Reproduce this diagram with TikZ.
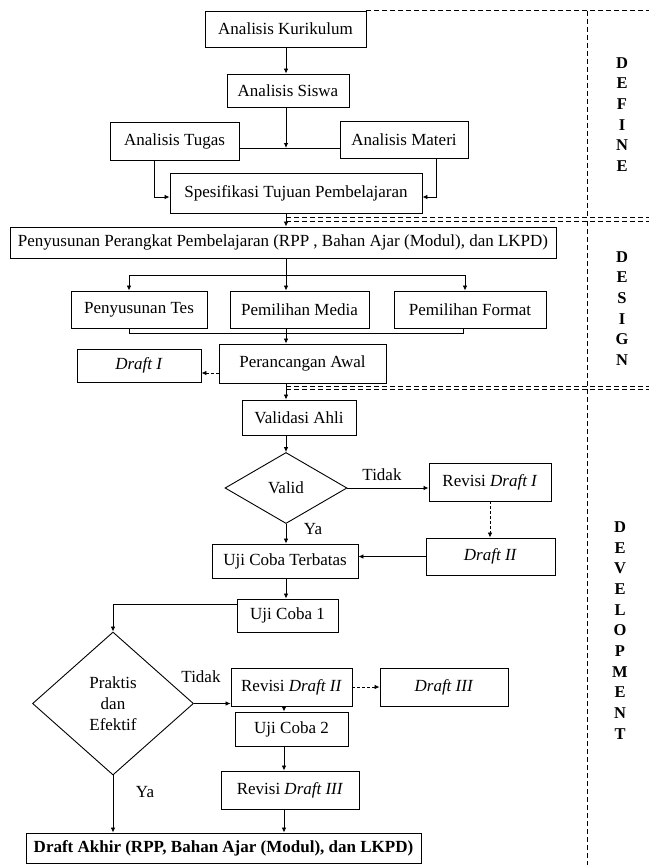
\documentclass[tikz,border=0pt]{standalone}
\usepackage{fontspec}
\setmainfont{Liberation Serif}
\usetikzlibrary{shapes.geometric,arrows.meta}
\newcommand{\boxfont}{\fontsize{17}{21}\selectfont}
\begin{document}
\begin{tikzpicture}[x=1pt,y=-1pt,
  box/.style={draw,line width=0.9pt,inner sep=0pt,align=center,font=\boxfont},
  dec/.style={draw,diamond,line width=0.9pt,inner sep=0pt,align=center,font=\boxfont},
  sz/.style 2 args={minimum width=#1pt,minimum height=#2pt},
  conn/.style={line width=0.8pt},
  arr/.style={conn,-{Latex[length=5pt,width=4.5pt]}},
  darr/.style={arr,dash pattern=on 3pt off 2pt},
  regionline/.style={line width=0.8pt,dash pattern=on 5pt off 3pt},
  lbl/.style={font=\boxfont,inner sep=0pt},
  phasetxt/.style={font=\bfseries\fontsize{16.5}{20.65}\selectfont,align=center,inner sep=0pt}]
\useasboundingbox (0,0) rectangle (649,865);

% helper coordinates
\coordinate (cx) at (286,0);
\coordinate (cy) at (284,0);
\coordinate (R) at (649,0);
\coordinate (vx) at (587,0);
\coordinate (j1) at (286,148);
\coordinate (atx) at (154,197);
\coordinate (amx) at (436,197);
\coordinate (b1) at (129,275);
\coordinate (b0) at (286,275);
\coordinate (b2) at (465,275);
\coordinate (m1) at (129,333);
\coordinate (m2) at (463,333);
\coordinate (r373) at (0,373);
\coordinate (r604) at (0,604);

% nodes
\node[box,sz={161}{36}] (ak) at (285.5,29) {Analisis Kurikulum};
\node[box,sz={122}{33}] (as) at (288,90.5) {Analisis Siswa};
\node[box,sz={129}{38}] (at) at (174.5,141) {Analisis Tugas};
\node[box,sz={128}{37}] (am) at (404,139.5) {Analisis Materi};
\node[box,sz={252}{40}] (stp) at (296,193) {Spesifikasi Tujuan Pembelajaran};
\node[box,sz={546}{31}] (pp) at (283,242.5) {Penyusunan Perangkat Pembelajaran (RPP , Bahan Ajar (Modul), dan LKPD)};
\node[box,sz={136}{37}] (pt) at (139,309.5) {Penyusunan Tes};
\node[box,sz={139}{37}] (pm) at (299.5,309.5) {Pemilihan Media};
\node[box,sz={152}{37}] (pf) at (470,309.5) {Pemilihan Format};
\node[box,sz={167}{39}] (pa) at (302.5,363.5) {Perancangan Awal};
\node[box,sz={124}{33}] (d1) at (139,365.5) {\textit{Draft I}};
\node[box,sz={114}{35}] (va) at (299,417.5) {Validasi Ahli};
\node[dec,sz={122}{71}] (valid) at (286,488) {Valid};
\node[box,sz={122}{38}] (rd1) at (490,482) {Revisi \textit{Draft I}};
\node[box,sz={129}{37}] (d2) at (490.5,556.5) {\textit{Draft II}};
\node[box,sz={146}{34}] (uct) at (285,561) {Uji Coba Terbatas};
\node[box,sz={101}{33}] (uc1) at (287.5,615.5) {Uji Coba 1};
\node[dec,sz={161}{143}] (pde) at (113,703.5) {Praktis\\dan\\Efektif};
\node[box,sz={121}{38}] (rd2) at (291.5,687) {Revisi \textit{Draft II}};
\node[box,sz={128}{38}] (d3) at (444,687) {\textit{Draft III}};
\node[box,sz={113}{34}] (uc2) at (291.5,729) {Uji Coba 2};
\node[box,sz={138}{38}] (rd3) at (290,790) {Revisi \textit{Draft III}};
\node[box,sz={395}{30},font=\boxfont\bfseries] (da) at (223.5,848) {Draft Akhir (RPP, Bahan Ajar (Modul), dan LKPD)};

% labels
\node[lbl] (t1) at (382,475) {Tidak};
\node[lbl] (y1) at (313,529) {Ya};
\node[lbl] (t2) at (201,677) {Tidak};
\node[lbl] (y2) at (145,792) {Ya};

% connectors
\draw[arr] (ak.south -| cx) -- (as.north -| cx);
\draw[arr] (as.south -| cx) -- (j1);
\draw[conn] (at.east |- j1) -- (am.west |- j1);
\draw[arr] (at.south -| atx) |- (stp.west |- atx);
\draw[arr] (am.south -| amx) |- (stp.east |- amx);
\draw[arr] (stp.south -| cx) -- (pp.north -| cx);
\draw[conn] (pp.south -| cx) -- (b0);
\draw[conn] (b1) -- (b2);
\draw[arr] (b1) -- (b1 |- pt.north);
\draw[arr] (b0) -- (b0 |- pm.north);
\draw[arr] (b2) -- (b2 |- pf.north);
\draw[conn] (m1 |- pt.south) -- (m1) -- (m2) -- (m2 |- pf.south);
\draw[arr] (pm.south -| cx) -- (pa.north -| cx);
\draw[darr] (pa.west |- r373) -- (d1.east |- r373);
\draw[arr] (pa.south -| cx) -- (va.north -| cx);
\draw[arr] (va.south -| cx) -- (valid.north);
\draw[arr] (valid.east) -- (valid.east -| rd1.west);
\draw[darr] (rd1.south) -- (rd1.south |- d2.north);
\draw[arr] (d2.west) -- (d2.west -| uct.east);
\draw[arr] (valid.south) -- (valid.south |- uct.north);
\draw[arr] (uct.south -| cx) -- (uc1.north -| cx);
\draw[arr] (uc1.west |- r604) -| (pde.north);
\draw[arr] (pde.east) -- (pde.east -| rd2.west);
\draw[darr] (rd2.east) -- (d3.west);
\draw[arr] (rd2.south -| cy) -- (uc2.north -| cy);
\draw[arr] (uc2.south -| cy) -- (rd3.north -| cy);
\draw[arr] (rd3.south -| cy) -- (da.north -| cy);
\draw[arr] (pde.south) -- (pde.south |- da.north);

% phase regions
\draw[regionline] (ak.north east) -- (ak.north east -| R);
\draw[regionline] (vx |- ak.north) -- (587,217.5);
\draw[regionline] (286,217.5) -- (649,217.5);
\draw[regionline] (286,221) -- (649,221);
\draw[regionline] (587,221) -- (587,386);
\draw[regionline] (286,386) -- (649,386);
\draw[regionline] (286,389) -- (649,389);
\draw[regionline] (587,389) -- (587,865);

\node[phasetxt] (define) at (622,114.5) {D\\E\\F\\I\\N\\E};
\node[phasetxt] (design) at (622,308.5) {D\\E\\S\\I\\G\\N};
\node[phasetxt] (devel) at (620,630.5) {D\\E\\V\\E\\L\\O\\P\\M\\E\\N\\T};
\end{tikzpicture}
\end{document}
